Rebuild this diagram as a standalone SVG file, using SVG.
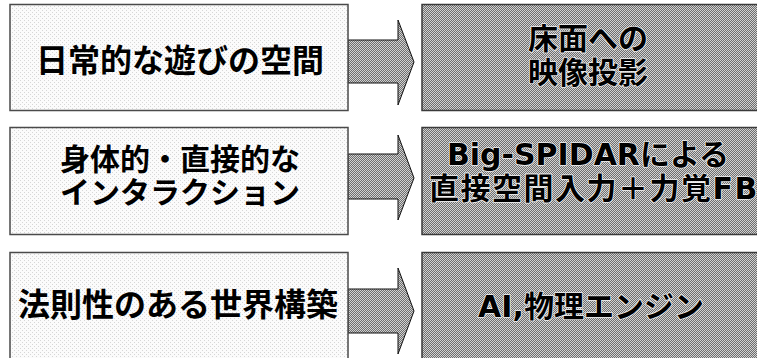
<svg xmlns="http://www.w3.org/2000/svg" width="757" height="358" viewBox="0 0 757 358">
  <defs>
    <pattern id="light" width="4" height="4" patternUnits="userSpaceOnUse">
      <rect width="4" height="4" fill="#fbfbfb"/>
      <rect x="0" y="0" width="1" height="1" fill="#d6d6d6"/>
      <rect x="2" y="2" width="1" height="1" fill="#d6d6d6"/>
    </pattern>
    <pattern id="dark" width="2" height="2" patternUnits="userSpaceOnUse">
      <rect width="2" height="2" fill="#d2d2d2"/>
      <rect x="1" y="0" width="1" height="1" fill="#6e6e6e"/>
      <rect x="0" y="1" width="1" height="1" fill="#6e6e6e"/>
    </pattern>
  </defs>
  <style>
    .lbox { fill: url(#light); stroke: #4a4a4a; stroke-width: 1.5; }
    .rbox { fill: url(#dark); stroke: #3a3a3a; stroke-width: 1.5; }
    .arrow { fill: url(#dark); stroke: #111; stroke-width: 1; stroke-linejoin: miter; }
    .t { font-family: "Noto Sans CJK JP", "Noto Sans", sans-serif; font-weight: bold; fill: #000; text-anchor: middle; }
    .tr { font-family: "DejaVu Sans", "Noto Sans CJK JP", sans-serif; stroke: #f0f0f0; stroke-width: 1.6; paint-order: stroke; stroke-linejoin: round; }
  </style>
  <rect width="757" height="358" fill="#ffffff"/>

  <g id="connectors">
    <polygon class="arrow" points="348,40 398,40 398,20 414,62 398,105 398,83 348,83"/>
    <polygon class="arrow" points="348,154 398,154 398,135 414,178 398,220 398,199 348,199"/>
    <polygon class="arrow" points="348,289 398,289 398,268 414,311 398,354 398,333 348,333"/>
  </g>

  <g id="node-daily-play">
    <rect class="lbox" x="10" y="4.5" width="338" height="106"/>
    <text class="t" x="180" y="72" font-size="32">日常的な遊びの空間</text>
  </g>
  <g id="node-floor-projection">
    <rect class="rbox" x="422" y="4.5" width="345" height="106"/>
    <text class="t tr" x="588" y="49" font-size="30">床面への</text>
    <text class="t tr" x="588" y="83" font-size="30">映像投影</text>
  </g>

  <g id="node-physical-interaction">
    <rect class="lbox" x="10" y="127.5" width="338" height="107"/>
    <text class="t" x="180" y="170" font-size="30">身体的・直接的な</text>
    <text class="t" x="180" y="203" font-size="30">インタラクション</text>
  </g>
  <g id="node-big-spidar">
    <rect class="rbox" x="422" y="127.5" width="345" height="107"/>
    <text class="t tr" x="588" y="165" font-size="30">Big-SPIDARによる</text>
    <text class="t tr" x="594" y="199" font-size="30" letter-spacing="1.5">直接空間入力＋力覚FB</text>
  </g>

  <g id="node-world-rules">
    <rect class="lbox" x="10" y="252.5" width="338" height="110"/>
    <text class="t" x="178" y="316" font-size="32">法則性のある世界構築</text>
  </g>
  <g id="node-ai-physics">
    <rect class="rbox" x="422" y="252.5" width="345" height="110"/>
    <text class="t tr" x="591" y="317" font-size="30">AI,物理エンジン</text>
  </g>
</svg>
